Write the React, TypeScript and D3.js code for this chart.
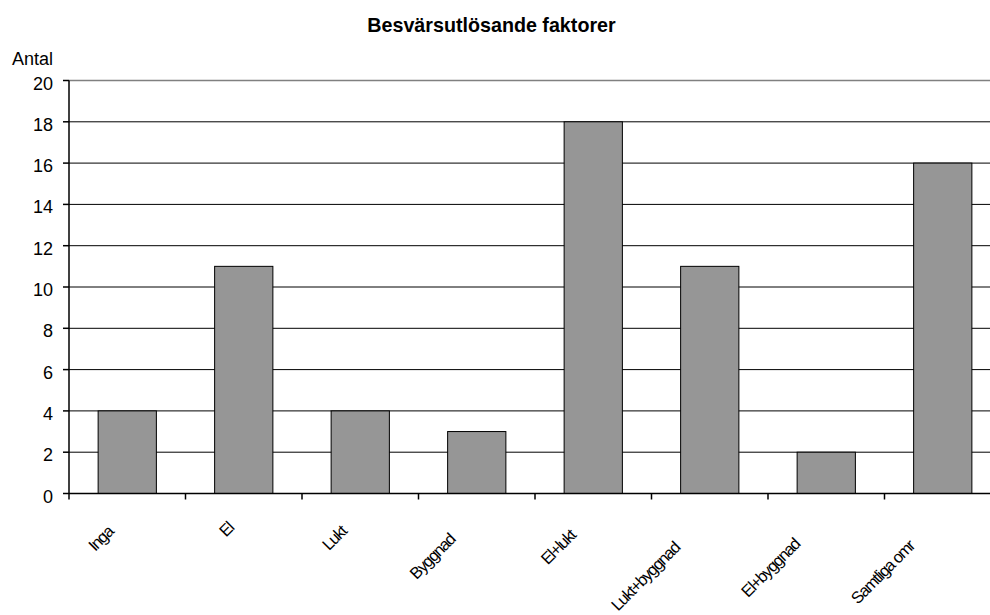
import React from "react";
import * as d3 from "d3";

const categories = ["Inga", "El", "Lukt", "Byggnad", "El+lukt", "Lukt+byggnad", "El+byggnad", "Samtliga omr"];
const counts = [4, 11, 4, 3, 18, 11, 2, 16];
const yTicks = [0, 2, 4, 6, 8, 10, 12, 14, 16, 18, 20];
const title = "Besvärsutlösande faktorer";
const yAxisTitle = "Antal";

const W = 990;
const H = 615;
const FONT = "'Liberation Sans', Arial, sans-serif";
const LABEL_SIZE = 16.5;
const LABEL_SPACING = -1.3;

function measure(text: string, font: string, spacing: number): number {
  if (typeof document === "undefined") return text.length * 7;
  const c = document.createElement("canvas").getContext("2d");
  if (!c) return text.length * 7;
  c.font = font;
  return c.measureText(text).width + spacing * text.length;
}

export default function App() {
  const plotLeft = 69;
  const band = 116.5;
  const plotRight = plotLeft + band * categories.length;
  const x = d3.scaleBand<string>().domain(categories).range([plotLeft, plotRight]).paddingInner(0).paddingOuter(0);
  const y = d3.scaleLinear().domain([0, 20]).range([493.5, 80.5]);
  const barW = x.bandwidth() / 2;

  return (
    <svg
      width={W}
      height={H}
      viewBox={`0 0 ${W} ${H}`}
      style={{ position: "absolute", left: 0, top: 0, background: "#fff", fontFamily: FONT }}
    >
      <rect x={0} y={0} width={W} height={H} fill="#fff" />
      <text x={491.5} y={32} textAnchor="middle" fontSize={19.7} fontWeight="bold" fill="#000">
        {title}
      </text>
      <text x={12} y={65} fontSize={18} fill="#000">
        {yAxisTitle}
      </text>

      {/* horizontal gridlines */}
      {yTicks.filter((t) => t > 0 && t < 20).map((t) => (
        <line key={`g${t}`} x1={plotLeft} x2={plotRight} y1={y(t)} y2={y(t)} stroke="#000" strokeWidth={1} />
      ))}
      <line x1={plotLeft} x2={plotRight} y1={y(20)} y2={y(20)} stroke="#808080" strokeWidth={1.5} />

      {/* bars */}
      {categories.map((c, i) => {
        const cx = (x(c) as number) + x.bandwidth() / 2;
        return (
          <rect
            key={c}
            x={cx - barW / 2}
            y={y(counts[i])}
            width={barW}
            height={y(0) - y(counts[i])}
            fill="#969696"
            stroke="#000"
            strokeWidth={1}
          />
        );
      })}

      {/* y axis */}
      <line x1={plotLeft} x2={plotLeft} y1={y(20)} y2={y(0)} stroke="#000" strokeWidth={1.5} />
      {yTicks.map((t) => (
        <g key={`yt${t}`}>
          <line x1={plotLeft - 6} x2={plotLeft} y1={y(t)} y2={y(t)} stroke="#000" strokeWidth={1.5} />
          <text x={53} y={y(t) + 9} textAnchor="end" fontSize={18} fill="#000">
            {t}
          </text>
        </g>
      ))}

      {/* x axis */}
      <line x1={plotLeft} x2={plotRight} y1={y(0)} y2={y(0)} stroke="#000" strokeWidth={1.5} />
      {categories.map((c) => (
        <line
          key={`xt${c}`}
          x1={x(c) as number}
          x2={x(c) as number}
          y1={y(0)}
          y2={y(0) + 6}
          stroke="#000"
          strokeWidth={1.5}
        />
      ))}

      {/* rotated category labels */}
      {categories.map((c) => {
        const cx = (x(c) as number) + x.bandwidth() / 2;
        const w = measure(c, `${LABEL_SIZE}px ${FONT}`, LABEL_SPACING);
        const shift = 0.26 * w;
        const px = cx - 6 - shift;
        const py = 526 + shift;
        return (
          <text
            key={`xl${c}`}
            transform={`translate(${px},${py}) rotate(-45)`}
            textAnchor="end"
            fontSize={LABEL_SIZE}
            letterSpacing={LABEL_SPACING}
            fill="#000"
          >
            {c}
          </text>
        );
      })}
    </svg>
  );
}
